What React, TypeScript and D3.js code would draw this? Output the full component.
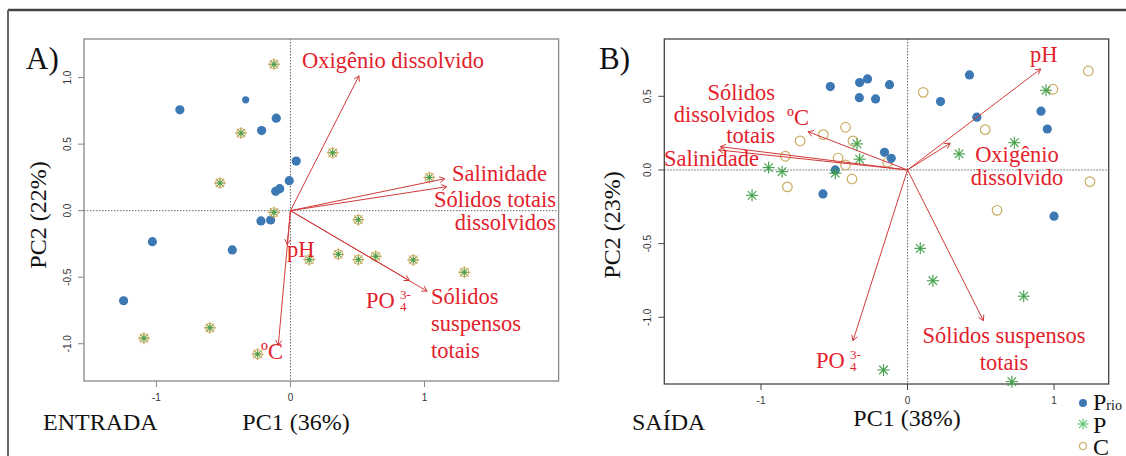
import React from "react";
import * as d3 from "d3";

// ---------- Data ----------
// Panel A (ENTRADA)
const aRioX = [-0.825, -0.334, -0.106, -0.215, 0.043, -0.009, -0.11, -0.08, -0.22, -0.148, -1.03, -0.434, -1.245];
const aRioY = [0.758, 0.833, 0.695, 0.602, 0.373, 0.225, 0.145, 0.165, -0.077, -0.07, -0.233, -0.295, -0.677];
const aPX = [-0.123, -0.369, -0.526, -0.123, 0.315, 1.036, 0.506, 0.14, 0.357, 0.506, 0.636, 0.916, 1.297, -1.093, -0.601, -0.245];
const aPY = [1.1, 0.583, 0.208, -0.013, 0.435, 0.25, -0.068, -0.368, -0.328, -0.368, -0.343, -0.37, -0.463, -0.958, -0.88, -1.078];
const aVarNames = ["Oxigênio dissolvido", "Salinidade", "Sólidos totais dissolvidos", "PO4", "Sólidos suspensos totais", "pH", "ºC"];
const aVarX = [0.511, 1.151, 1.166, 0.887, 1.019, -0.024, -0.091];
const aVarY = [1.013, 0.24, 0.18, -0.525, -0.605, -0.255, -1.013];

// Panel B (SAÍDA)
const bRioX = [-0.527, -0.327, -0.273, -0.123, -0.329, -0.218, 0.423, 0.225, 0.473, 0.911, 0.954, -0.157, -0.111, -0.493, -0.577, 1.0];
const bRioY = [0.566, 0.593, 0.618, 0.579, 0.491, 0.482, 0.645, 0.464, 0.358, 0.399, 0.278, 0.12, 0.079, 0.0, -0.163, -0.314];
const bPX = [-0.948, -0.856, -1.061, -0.493, -0.345, -0.327, 0.352, 0.729, 0.945, 0.087, 0.173, 0.793, -0.164, 0.712];
const bPY = [0.016, -0.012, -0.172, -0.022, 0.177, 0.073, 0.109, 0.185, 0.541, -0.532, -0.752, -0.857, -1.358, -1.437];
const bCX = [-0.575, -0.423, -0.733, -0.834, -0.474, -0.423, -0.82, -0.379, -0.372, 0.107, 0.53, 1.234, 0.993, -0.136, 1.245, 0.611];
const bCY = [0.24, 0.29, 0.197, 0.093, 0.081, 0.034, -0.115, -0.061, 0.197, 0.527, 0.274, 0.672, 0.548, 0.052, -0.079, -0.274];
const bVarNames = ["pH", "Oxigênio dissolvido", "ºC", "Sólidos dissolvidos totais", "Salinidade", "PO4", "Sólidos suspensos totais"];
const bVarX = [0.909, 0.291, -0.679, -1.277, -1.29, -0.372, 0.518];
const bVarY = [0.686, 0.181, 0.26, 0.158, 0.136, -1.159, -1.023];

const aXTicks = [-1, 0, 1];
const aYTicks = [-1.0, -0.5, 0.0, 0.5, 1.0];
const bXTicks = [-1, 0, 1];
const bYTicks = [-1.0, -0.5, 0.0, 0.5];

const SERIF = "'Liberation Serif', 'Times New Roman', serif";
const SANS = "'Liberation Sans', Arial, sans-serif";
const RED = "#e3212b";
const ARROW = "#d23a3a";
const BLUE = "#3b78b4";
const GREEN = "#3f9f48";
const OLIVE = "#c9ad62";

function Arrow({ x1, y1, x2, y2 }: { x1: number; y1: number; x2: number; y2: number }) {
  const ang = Math.atan2(y2 - y1, x2 - x1);
  const L = 6;
  const a1 = ang + Math.PI - Math.PI / 6;
  const a2 = ang + Math.PI + Math.PI / 6;
  return (
    <g stroke={ARROW} strokeWidth={1} fill="none">
      <line x1={x1} y1={y1} x2={x2} y2={y2} />
      <line x1={x2} y1={y2} x2={x2 + L * Math.cos(a1)} y2={y2 + L * Math.sin(a1)} />
      <line x1={x2} y1={y2} x2={x2 + L * Math.cos(a2)} y2={y2 + L * Math.sin(a2)} />
    </g>
  );
}

function Asterisk({ cx, cy, r, color, w }: { cx: number; cy: number; r: number; color: string; w: number }) {
  const d = r * Math.SQRT1_2;
  return (
    <g stroke={color} strokeWidth={w}>
      <line x1={cx - r} y1={cy} x2={cx + r} y2={cy} />
      <line x1={cx} y1={cy - r} x2={cx} y2={cy + r} />
      <line x1={cx - d} y1={cy - d} x2={cx + d} y2={cy + d} />
      <line x1={cx - d} y1={cy + d} x2={cx + d} y2={cy - d} />
    </g>
  );
}

function Frame({ x, y, xT, yT, dark }: { x: d3.ScaleLinear<number, number>; y: d3.ScaleLinear<number, number>; xT: number[]; yT: number[]; dark: string }) {
  const [x0, x1] = x.range();
  const [y0, y1] = y.range();
  return (
    <g>
      <line x1={x(0)} x2={x(0)} y1={y1} y2={y0} stroke="#444" strokeDasharray="1.5,1.5" strokeWidth={0.8} />
      <line x1={x0} x2={x1} y1={y(0)} y2={y(0)} stroke="#444" strokeDasharray="1.5,1.5" strokeWidth={0.8} />
      <rect x={x0} y={y1} width={x1 - x0} height={y0 - y1} fill="none" stroke={dark} strokeWidth={1.3} />
      {xT.map((t) => (
        <g key={"x" + t}>
          <line x1={x(t)} x2={x(t)} y1={y0} y2={y0 + 6} stroke={dark} strokeWidth={1} />
          <text x={x(t)} y={y0 + 20} fontFamily={SANS} fontSize={10} fill="#333" textAnchor="middle">{String(t)}</text>
        </g>
      ))}
      {yT.map((t) => (
        <g key={"y" + t}>
          <line x1={x0 - 6} x2={x0} y1={y(t)} y2={y(t)} stroke={dark} strokeWidth={1} />
          <text transform={`translate(${x0 - 13},${y(t)}) rotate(-90)`} fontFamily={SANS} fontSize={10} fill="#333" textAnchor="middle">{t.toFixed(1)}</text>
        </g>
      ))}
    </g>
  );
}

function PO4({ x, y }: { x: number; y: number }) {
  return (
    <g fill={RED} fontFamily={SERIF}>
      <text x={x} y={y} fontSize={22.5}>PO</text>
      <text x={x + 34} y={y - 9} fontSize={13}>3-</text>
      <text x={x + 34} y={y + 3} fontSize={13}>4</text>
    </g>
  );
}

export default function App() {
  const ax = d3.scaleLinear().domain([-1.54, 2.0]).range([84, 558.6]);
  const ay = d3.scaleLinear().domain([-1.28, 1.29]).range([381, 39]);
  const bx = d3.scaleLinear().domain([-1.66, 1.373]).range([664.3, 1108.7]);
  const by = d3.scaleLinear().domain([-1.453, 0.889]).range([384, 39]);

  const lbl = { fill: RED, fontFamily: SERIF, fontSize: 22.5 } as const;
  const big = { fill: "#111", fontFamily: SERIF, fontSize: 24 } as const;

  return (
    <svg width={1126} height={456} style={{ position: "absolute", left: 0, top: 0 }}>
      <rect x={0} y={0} width={1126} height={456} fill="#fff" />
      {/* outer frame */}
      <line x1={8} y1={10} x2={1126} y2={10} stroke="#444" strokeWidth={2.5} />
      <line x1={8} y1={10} x2={8} y2={456} stroke="#666" strokeWidth={2} />

      {/* ---------- Panel A ---------- */}
      <Frame x={ax} y={ay} xT={aXTicks} yT={aYTicks} dark="#888" />
      {aRioX.map((v, i) => (
        <circle key={"ar" + i} cx={ax(v)} cy={ay(aRioY[i])} r={i === 1 ? 3.6 : 4.6} fill={BLUE} />
      ))}
      {aPX.map((v, i) => (
        <g key={"ap" + i}>
          <circle cx={ax(v)} cy={ay(aPY[i])} r={4.5} fill="none" stroke={OLIVE} strokeWidth={1} />
          <Asterisk cx={ax(v)} cy={ay(aPY[i])} r={6} color={OLIVE} w={1.1} />
          <Asterisk cx={ax(v)} cy={ay(aPY[i])} r={3.5} color={GREEN} w={1} />
        </g>
      ))}
      {aVarX.map((v, i) => (
        <Arrow key={"aa" + i} x1={ax(0)} y1={ay(0)} x2={ax(v)} y2={ay(aVarY[i])} />
      ))}
      <text x={26} y={69} fontFamily={SERIF} fontSize={31} fill="#111">A)</text>
      <text {...lbl} x={302} y={68}>{aVarNames[0]}</text>
      <text {...lbl} x={452} y={181}>{aVarNames[1]}</text>
      <text {...lbl} x={556} y={207} textAnchor="end">Sólidos totais</text>
      <text {...lbl} x={556} y={230} textAnchor="end">dissolvidos</text>
      <text {...lbl} x={287} y={257}>{aVarNames[5]}</text>
      <PO4 x={366} y={308} />
      <text {...lbl} x={431} y={304}>Sólidos</text>
      <text {...lbl} x={431} y={331}>suspensos</text>
      <text {...lbl} x={431} y={358}>totais</text>
      <text {...lbl} x={261} y={359}>{aVarNames[6]}</text>
      <text {...big} transform="translate(46,215) rotate(-90)" textAnchor="middle">PC2 (22%)</text>
      <text {...big} x={43} y={430}>ENTRADA</text>
      <text {...big} x={296} y={430} textAnchor="middle">PC1 (36%)</text>

      {/* ---------- Panel B ---------- */}
      <Frame x={bx} y={by} xT={bXTicks} yT={bYTicks} dark="#444" />
      {bCX.map((v, i) => (
        <circle key={"bc" + i} cx={bx(v)} cy={by(bCY[i])} r={4.8} fill="none" stroke={OLIVE} strokeWidth={1.2} />
      ))}
      {bRioX.map((v, i) => (
        <circle key={"br" + i} cx={bx(v)} cy={by(bRioY[i])} r={4.6} fill={BLUE} />
      ))}
      {bPX.map((v, i) => (
        <Asterisk key={"bp" + i} cx={bx(v)} cy={by(bPY[i])} r={6} color={GREEN} w={1.1} />
      ))}
      {bVarX.map((v, i) => (
        <Arrow key={"ba" + i} x1={bx(0)} y1={by(0)} x2={bx(v)} y2={by(bVarY[i])} />
      ))}
      <text x={599} y={69} fontFamily={SERIF} fontSize={31} fill="#111">B)</text>
      <text {...lbl} x={1030} y={62}>{bVarNames[0]}</text>
      <text {...lbl} x={1017} y={162} textAnchor="middle">Oxigênio</text>
      <text {...lbl} x={1017} y={185} textAnchor="middle">dissolvido</text>
      <text {...lbl} x={787} y={125}>{bVarNames[2]}</text>
      <text {...lbl} x={775} y={100} textAnchor="end">Sólidos</text>
      <text {...lbl} x={775} y={122} textAnchor="end">dissolvidos</text>
      <text {...lbl} x={775} y={143} textAnchor="end">totais</text>
      <text {...lbl} x={664} y={166}>{bVarNames[4]}</text>
      <PO4 x={816} y={368} />
      <text {...lbl} x={1004} y={343} textAnchor="middle">Sólidos suspensos</text>
      <text {...lbl} x={1004} y={370} textAnchor="middle">totais</text>
      <text {...big} transform="translate(620,225) rotate(-90)" textAnchor="middle">PC2 (23%)</text>
      <text {...big} x={632} y={430}>SAÍDA</text>
      <text {...big} x={907} y={426} textAnchor="middle">PC1 (38%)</text>

      {/* legend */}
      <circle cx={1083} cy={403} r={4} fill={BLUE} />
      <text {...big} x={1093} y={410}>P<tspan fontSize={14}>rio</tspan></text>
      <Asterisk cx={1083} cy={424} r={5.5} color="#5cbf6a" w={1.1} />
      <text {...big} x={1093} y={433}>P</text>
      <circle cx={1083} cy={446} r={3.5} fill="none" stroke={OLIVE} strokeWidth={1.2} />
      <text {...big} x={1093} y={455}>C</text>
    </svg>
  );
}
